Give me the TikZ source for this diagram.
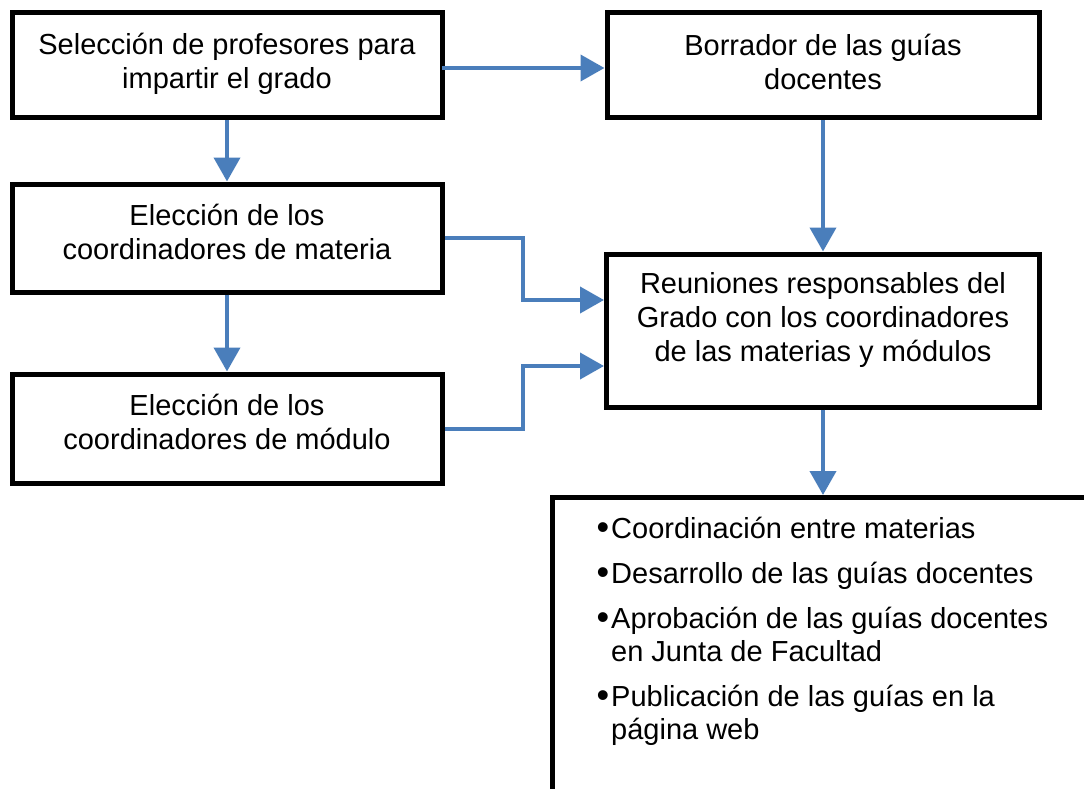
\documentclass[tikz,border=0pt]{standalone}
\usepackage{fontspec}
\setmainfont{Liberation Sans}
\usetikzlibrary{arrows.meta}
\definecolor{arrowblue}{RGB}{74,126,187}
\newcommand{\bulletmark}{\leavevmode\llap{\raisebox{-1pt}{\fontsize{36}{33}\selectfont •}\hspace{2pt}}}
\begin{document}
\begin{tikzpicture}[x=1pt,y=-1pt,
  box/.style={draw=black, line width=5pt, fill=white, inner sep=0pt},
  txt/.style={align=center, font=\fontsize{29}{34}\selectfont, inner sep=0pt},
  arr/.style={draw=arrowblue, line width=4pt, -{Triangle[length=24pt,width=26pt]}}]
\useasboundingbox (0,0) rectangle (1084,789);
\begin{scope}
\clip (0,0) rectangle (1084,789);
% boxes
\node[box, minimum width=430pt, minimum height=105pt] (A) at (227,65.5) {};
\node[box, minimum width=432pt, minimum height=105pt] (B) at (823,65.5) {};
\node[box, minimum width=430pt, minimum height=108pt] (C) at (227,238) {};
\node[box, minimum width=430pt, minimum height=109pt] (D) at (227,428.5) {};
\node[box, minimum width=433pt, minimum height=153pt] (E) at (823,330.5) {};
\node[box, minimum width=560pt, minimum height=340pt, anchor=north west] (F) at (550,495) {};
\end{scope}
% texts
\node[txt] (At) at (227,64) {Selección de profesores para\\impartir el grado};
\node[txt] (Bt) at (823,62) {Borrador de las guías\\docentes};
\node[txt] (Ct) at (227,232) {Elección de los\\coordinadores de materia};
\node[txt] (Dt) at (227,421.5) {Elección de los\\coordinadores de módulo};
\node[txt] (Et) at (823,320) {Reuniones responsables del\\Grado con los coordinadores\\de las materias y módulos};
\node[inner sep=0pt, anchor=base west] (Ft) at (611,538)
 {\parbox[t]{460pt}{\fontsize{29}{33}\selectfont\raggedright
  \bulletmark Coordinación entre materias\\[12pt]
  \bulletmark Desarrollo de las guías docentes\\[12pt]
  \bulletmark Aprobación de las guías docentes\\
  en Junta de Facultad\\[12pt]
  \bulletmark Publicación de las guías en la\\
  página web}};
% connectors
\coordinate (cA) at (442,68);
\coordinate (kC) at (523,300);
\coordinate (kD) at (523,366);
\draw[arr] (cA) -- (cA -| B.west);
\draw[arr] (A.south) -- (C.north);
\draw[arr] (C.south) -- (D.north);
\draw[arr] (B.south) -- (E.north);
\draw[arr] (E.south) -- (E.south |- F.north);
\draw[arr] (C.east) -| (kC) -- (kC -| E.west);
\draw[arr] (D.east) -| (kD) -- (kD -| E.west);
\end{tikzpicture}
\end{document}
